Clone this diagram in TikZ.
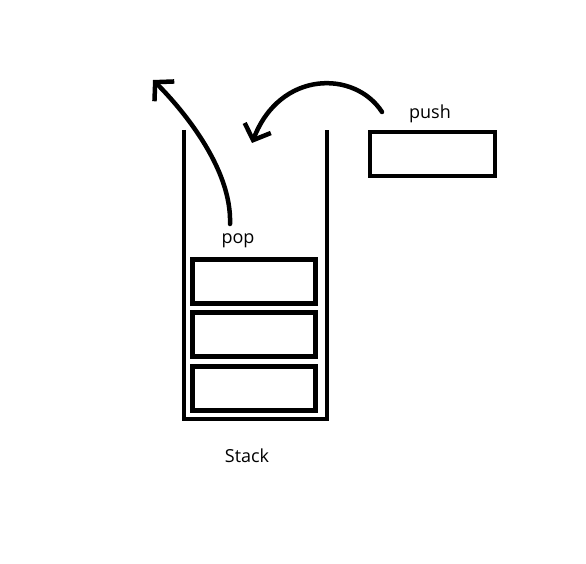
\documentclass[tikz,border=0pt]{standalone}
\usepackage{fontspec}
\setmainfont{Open Sans}
\usepackage{tikz}
\usetikzlibrary{positioning,arrows.meta}
\tikzset{
  wall/.style={line width=4.5pt},
  cell/.style={draw, line width=5pt, minimum width=123pt, minimum height=44pt,
               inner sep=0pt},
  pushbox/.style={draw, line width=4pt, minimum width=125pt, minimum height=44pt,
                  inner sep=0pt},
  lbl/.style={font=\fontsize{18}{21}\selectfont, inner sep=0pt},
  curvy/.style={-{Straight Barb[length=13pt,width=28pt]}, line width=4.5pt,
                line cap=round}
}
\begin{document}
\begin{tikzpicture}[x=1pt, y=-1pt, node distance=4.5pt]
        \useasboundingbox (0,0) rectangle (586,564);
        % stack container
        \coordinate (tl) at (184,130);
        \coordinate (tr) at (327,130);
        \draw[wall] (tl) |- (327,419) -- (tr);
        \node[cell] (c1) at (254,281) {};
        \node[cell, below=of c1] (c2) {};
        \node[cell, below=of c2] (c3) {};
        \node[pushbox] (pb) at (432.5,154) {};
        \node[lbl] (push) at (430,114) {push};
        \node[lbl] (pop) at (238,241) {pop};
        \node[lbl] (stk) at (247,456) {Stack};
        % arrows
        \coordinate (popfrom) at (230,224);
        \coordinate (popto) at (153,80);
        \coordinate (pushfrom) at (382,112);
        \coordinate (pushto) at (252,143);
        \draw[curvy] (popfrom) .. controls (232,170) and (185,112) .. (popto);
        \draw[curvy] (pushfrom) .. controls (355,70) and (280,70) .. (pushto);
      \end{tikzpicture}
\end{document}
